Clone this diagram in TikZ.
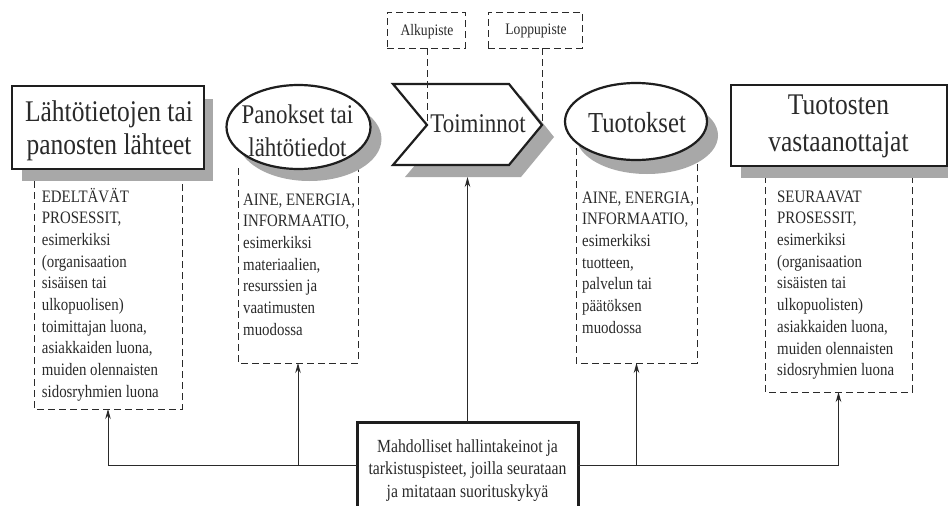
\documentclass[tikz,border=0pt]{standalone}
\usepackage{fontspec}
\setmainfont{Liberation Serif}[FakeStretch=0.85]
\usetikzlibrary{shapes.geometric,arrows.meta}
\definecolor{shadowc}{HTML}{A8A8A8}
\definecolor{ink}{HTML}{1E1E1E}
\definecolor{txt}{HTML}{2A2A2A}
\begin{document}
\begin{tikzpicture}[x=1pt,y=-1pt,
  titlebox/.style={draw=ink, line width=2.4pt, fill=white, inner sep=0pt, outer sep=0pt},
  oval/.style={draw=ink, line width=2.2pt, fill=white, ellipse, inner sep=0pt, outer sep=0pt},
  dbox/.style={draw=none, inner sep=0pt, outer sep=0pt},
  dashln/.style={draw=txt, line width=0.9pt, dash pattern=on 7pt off 4pt},
  smallbox/.style={draw=txt, line width=0.9pt, dash pattern=on 7pt off 4pt, inner sep=0pt, outer sep=0pt, fill=white},
  arr/.style={draw=txt, line width=0.9pt, -{Stealth[length=10pt,width=5.5pt]}},
  body/.style={font=\fontsize{17.5}{21.7}\selectfont, align=left, anchor=north west, inner sep=0pt, text=txt},
  ttl/.style={inner sep=0pt, text=txt, align=center}]
\useasboundingbox (0,0) rectangle (948,506);
\fill[white] (0,0) rectangle (948,506);
% dashed boxes (open at top)
\node[dbox, minimum width=148pt, minimum height=239pt] (d1) at (108,289.5) {};
\node[dbox, minimum width=120pt, minimum height=195pt] (d2) at (298,265.5) {};
\node[dbox, minimum width=121pt, minimum height=215pt] (d3) at (636.5,255.5) {};
\node[dbox, minimum width=147pt, minimum height=216pt] (d4) at (838.5,284) {};
\foreach \d in {d1,d2,d3,d4}
  \draw[dashln] (\d.north west) -- (\d.south west) -- (\d.south east) -- (\d.north east);
% shadows
\fill[shadowc] (22,99) rectangle (213,181);
\fill[shadowc] (309.5,139) ellipse [x radius=72, y radius=42];
\fill[shadowc] (405,96) -- (521,96) -- (554,137) -- (521,177) -- (405,177) -- (439,137) -- cycle;
\fill[shadowc] (647,135.5) ellipse [x radius=71, y radius=38.5];
\fill[shadowc] (741,97) rectangle (958,178);
% main shapes
\node[titlebox, minimum width=192pt, minimum height=83pt] (b1) at (108,127.5) {};
\node[oval, minimum width=144pt, minimum height=84pt] (pan) at (298.5,127) {};
\draw[ink, line width=2.2pt, fill=white, line join=miter] (393,84) -- (509,84) -- (542,125) -- (509,165) -- (393,165) -- (427,125) -- cycle;
\node[oval, minimum width=142pt, minimum height=77pt] (tuo) at (636,121.5) {};
\node[titlebox, minimum width=216pt, minimum height=81pt] (b4) at (839,125.5) {};
% titles
\node[ttl, font=\fontsize{30}{32.6}\selectfont] (t1) at (109,131) {Lähtötietojen tai\\panosten lähteet};
\node[ttl, font=\fontsize{27}{33.4}\selectfont] (tpan) at (297.5,131) {Panokset tai\\lähtötiedot};
\node[ttl, font=\fontsize{27}{30}\selectfont] (ttoim) at (478,124.1) {Toiminnot};
\node[ttl, font=\fontsize{29}{30}\selectfont] (ttuo) at (637,122.8) {Tuotokset};
\node[ttl, font=\fontsize{30}{36.7}\selectfont] (t4) at (838.5,126.7) {Tuotosten\\vastaanottajat};
% body texts
\node[body] (x1) at (41.7,187.7) {EDELTÄVÄT\\PROSESSIT,\\esimerkiksi\\(organisaation\\sisäisen tai\\ulkopuolisen)\\toimittajan luona,\\asiakkaiden luona,\\muiden olennaisten\\sidosryhmien luona};
\node[body] (x2) at (243,193.4) {AINE, ENERGIA,\\INFORMAATIO,\\esimerkiksi\\materiaalien,\\resurssien ja\\vaatimusten\\muodossa};
\node[body] (x3) at (582,191.4) {AINE, ENERGIA,\\INFORMAATIO,\\esimerkiksi\\tuotteen,\\palvelun tai\\päätöksen\\muodossa};
\node[body] (x4) at (777,190.4) {SEURAAVAT\\PROSESSIT,\\esimerkiksi\\(organisaation\\sisäisten tai\\ulkopuolisten)\\asiakkaiden luona,\\muiden olennaisten\\sidosryhmien luona};
% start / end points
\coordinate (notch) at (427,125);
\coordinate (tip) at (542,125);
\node[smallbox, minimum width=78pt, minimum height=36pt] (alku) at (426,30) {};
\node[smallbox, minimum width=94pt, minimum height=36pt] (loppu) at (535,30) {};
\node[ttl, font=\fontsize{16}{18}\selectfont] (talku) at (427,31.3) {Alkupiste};
\node[ttl, font=\fontsize{16}{18}\selectfont] (tloppu) at (536,31.3) {Loppupiste};
\draw[dashln] (alku.south -| notch) -- (notch);
\draw[dashln] (tip |- loppu.south) -- (tip);
% control box
\node[draw=ink, line width=3pt, fill=white, minimum width=221pt, minimum height=90pt, inner sep=0pt, outer sep=0pt] (ctl) at (467.5,467) {};
\node[ttl, font=\fontsize{18.5}{22.5}\selectfont] (tctl) at (467.5,470.2) {Mahdolliset hallintakeinot ja\\tarkistuspisteet, joilla seurataan\\ja mitataan suorituskykyä};
\coordinate (hl) at (0,465);
\coordinate (chevsh) at (0,177);
\draw[arr] (ctl.west |- hl) -| (d1.south);
\draw[arr] (ctl.east |- hl) -| (d4.south);
\draw[arr] (d2.south |- hl) -- (d2.south);
\draw[arr] (d3.south |- hl) -- (d3.south);
\draw[arr] (ctl.north) -- (ctl.north |- chevsh);
\end{tikzpicture}
\end{document}
